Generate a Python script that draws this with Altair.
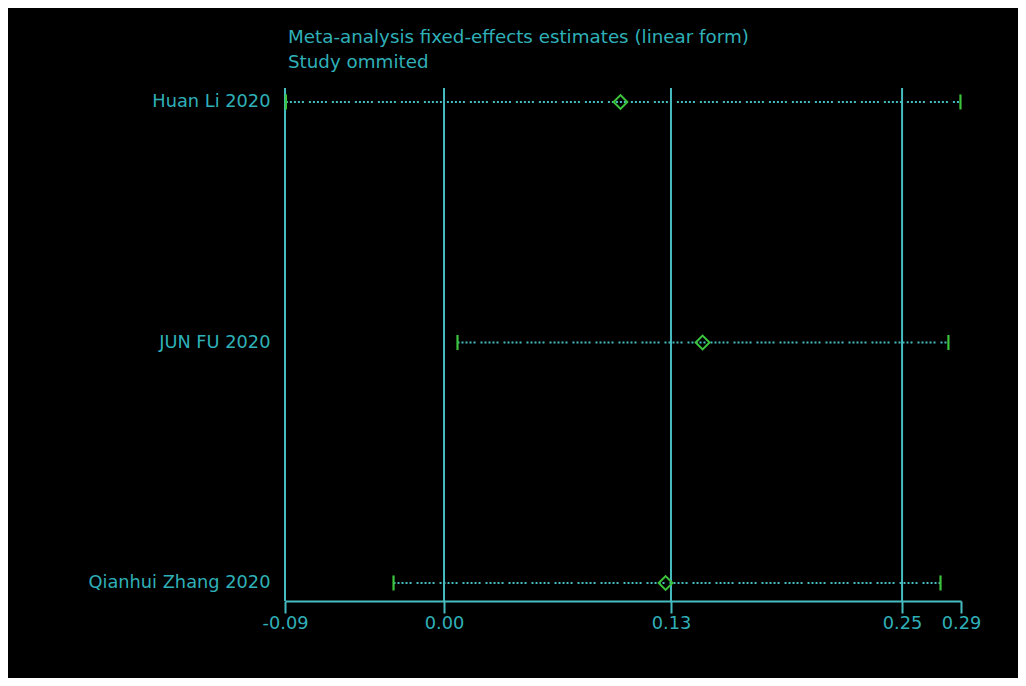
import altair as alt
import pandas as pd

# ---- data ----
studies = ["Huan Li 2020", "JUN FU 2020", "Qianhui Zhang 2020"]
rows = [3, 2, 1]
estimate = [0.0982, 0.1439, 0.1233]
lower = [-0.0880, 0.0075, -0.0281]
upper = [0.2874, 0.2807, 0.2763]

tick_values = [-0.0885, 0.0, 0.1263, 0.2549, 0.2877]
tick_labels = ["-0.09", "0.00", "0.13", "0.25", "0.29"]
ref_lines = [-0.0885, 0.0, 0.1263, 0.2549]

title_lines = ["Meta-analysis fixed-effects estimates (linear form)", "Study ommited"]

# ---- styling ----
TEAL = "#46bcc0"
TEXT = "#2fb0b8"
GREEN = "#3cc43c"
FONT = "DejaVu Sans"
FS = 17.8

df = pd.DataFrame({"study": studies, "row": rows, "est": estimate,
                   "lo": lower, "hi": upper})
ref_df = pd.DataFrame({"ref": ref_lines})

x_scale = alt.Scale(domain=[tick_values[0], tick_values[-1]], nice=False, zero=False)
y_scale = alt.Scale(domain=[0.925, 3.058], nice=False, zero=False)

x_label_expr = "[" + ",".join("'%s'" % l for l in tick_labels) + "][indexof([" + \
    ",".join(repr(v) for v in tick_values) + "], datum.value)]"
y_label_expr = "{" + ",".join("'%d':'%s'" % (r, s) for r, s in zip(rows, studies)) + "}[datum.value]"

x_axis = alt.Axis(values=tick_values, labelExpr=x_label_expr, title=None, grid=False,
                  domainColor=TEAL, domainWidth=2, tickColor=TEAL, tickWidth=2,
                  tickSize=12, labelColor=TEXT, labelFontSize=FS, labelFont=FONT,
                  labelPadding=1, labelFlush=False)
y_axis = alt.Axis(values=rows, labelExpr=y_label_expr, title=None, grid=False,
                  domain=False, ticks=False, labelColor=TEXT, labelFontSize=FS,
                  labelFont=FONT, labelPadding=15, labelLimit=400)

refs = alt.Chart(ref_df).mark_rule(color=TEAL, strokeWidth=2).encode(
    x=alt.X("ref:Q", scale=x_scale, axis=x_axis)
)

ci = alt.Chart(df).mark_rule(color=TEAL, strokeWidth=2,
                             strokeDash=[2, 2, 2, 2, 2, 2, 2, 2, 2, 5]).encode(
    x=alt.X("lo:Q", scale=x_scale, axis=x_axis),
    x2="hi:Q",
    y=alt.Y("row:Q", scale=y_scale, axis=y_axis),
)

cap_shape = "M0,-1L0,1"
cap_lo = alt.Chart(df).mark_point(shape=cap_shape, size=225, strokeWidth=2.2,
                                  color=GREEN, opacity=1).encode(
    x=alt.X("lo:Q", scale=x_scale, axis=x_axis),
    y=alt.Y("row:Q", scale=y_scale, axis=y_axis),
)
cap_hi = alt.Chart(df).mark_point(shape=cap_shape, size=225, strokeWidth=2.2,
                                  color=GREEN, opacity=1).encode(
    x=alt.X("hi:Q", scale=x_scale, axis=x_axis),
    y=alt.Y("row:Q", scale=y_scale, axis=y_axis),
)

est = alt.Chart(df).mark_point(shape="diamond", filled=False, size=190, strokeWidth=2,
                               color=GREEN, opacity=1).encode(
    x=alt.X("est:Q", scale=x_scale, axis=x_axis),
    y=alt.Y("row:Q", scale=y_scale, axis=y_axis),
)

chart = alt.layer(refs, ci, cap_lo, cap_hi, est).properties(
    width=676,
    height=513,
    autosize=alt.AutoSizeParams(type="none"),
    padding={"left": 277, "top": 80, "right": 57, "bottom": 77},
    background="black",
    title=alt.TitleParams(text=title_lines, anchor="start", frame="group",
                          fontSize=18.3, font=FONT, fontWeight="normal",
                          color=TEXT, lineHeight=25, offset=15, dx=3),
).configure_view(stroke=None)

chart.save("out.html", embed_options={"renderer": "svg", "actions": False})
